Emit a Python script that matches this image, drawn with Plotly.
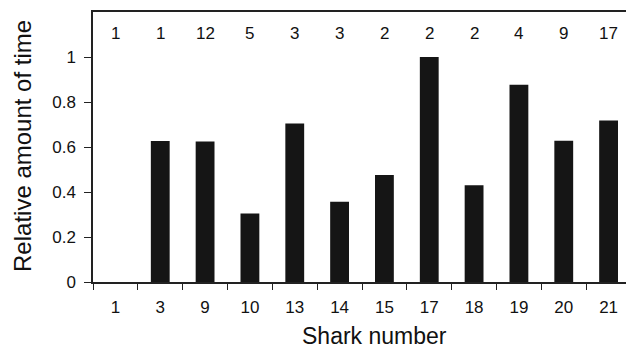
import plotly.graph_objects as go

sharks = ["1", "3", "9", "10", "13", "14", "15", "17", "18", "19", "20", "21"]
rel_time = [0.0, 0.627, 0.624, 0.304, 0.705, 0.357, 0.476, 1.0, 0.43, 0.877, 0.628, 0.718]
counts = ["1", "1", "12", "5", "3", "3", "2", "2", "2", "4", "9", "17"]

font_family = "Liberation Sans, Arial, Helvetica, sans-serif"

fig = go.Figure()
fig.add_trace(go.Bar(
    x=sharks, y=rel_time, width=0.42,
    marker=dict(color="#151515", line=dict(width=0)),
))

for i, c in enumerate(counts):
    fig.add_annotation(x=i, y=1.105, xref="x", yref="y", text=c, showarrow=False,
                       font=dict(size=17, color="#111", family=font_family))

fig.add_annotation(x=-0.13, y=0.504, xref="paper", yref="paper",
                   text="Relative amount of time", textangle=-90, showarrow=False,
                   xanchor="center", yanchor="middle",
                   font=dict(size=24, color="#111", family=font_family))
fig.add_annotation(x=0.523, y=-0.2, xref="paper", yref="paper",
                   text="Shark number", showarrow=False,
                   xanchor="center", yanchor="middle",
                   font=dict(size=23, color="#111", family=font_family))

# page body has an 8px default margin; size the figure so it fits the 634x351 window
fig.update_layout(
    width=626, height=343,
    margin=dict(l=85, r=3, t=4, b=69),
    paper_bgcolor="white", plot_bgcolor="white",
    showlegend=False,
    font=dict(family=font_family, color="#111"),
    xaxis=dict(
        type="category", range=[-0.5, 11.5], tickson="boundaries",
        ticks="outside", ticklen=6, tickwidth=1.3, tickcolor="#222",
        showline=True, linecolor="#222", linewidth=1.5, mirror=True,
        showgrid=False, tickfont=dict(size=17), automargin=False,
        ticklabelstandoff=9,
    ),
    yaxis=dict(
        range=[0, 1.2], tickvals=[0, 0.2, 0.4, 0.6, 0.8, 1],
        ticktext=["0", "0.2", "0.4", "0.6", "0.8", "1"],
        ticks="outside", ticklen=7, tickwidth=1.3, tickcolor="#222",
        showline=True, linecolor="#222", linewidth=1.5, mirror=True,
        showgrid=False, zeroline=False, tickfont=dict(size=17), automargin=False,
        ticklabelstandoff=5,
    ),
)

fig.write_html("out.html")
